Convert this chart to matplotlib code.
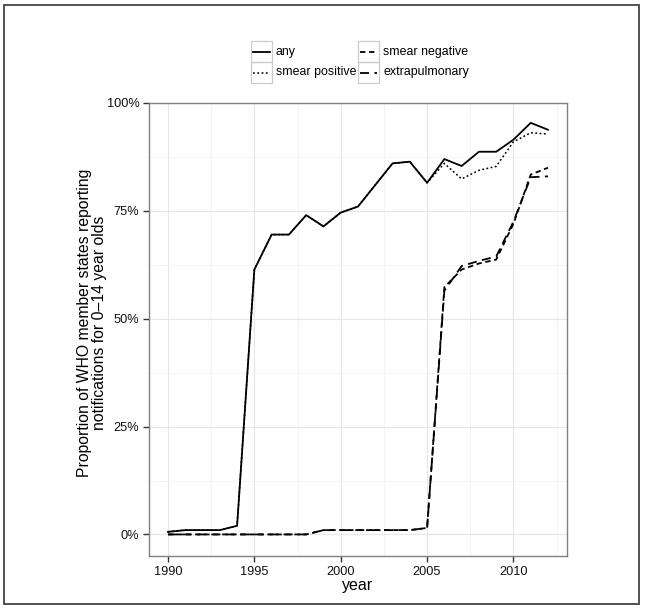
import matplotlib.pyplot as plt
from matplotlib.patches import Rectangle
from matplotlib.ticker import FuncFormatter, MultipleLocator
from matplotlib.lines import Line2D

plt.rcParams['font.family'] = ['Liberation Sans', 'DejaVu Sans']

years = list(range(1990, 2013))
any_pct = [0.6, 1, 1, 1, 2, 61.4, 69.5, 69.5, 74, 71.4, 74.6, 76, 81, 86, 86.4,
           81.5, 87, 85.4, 88.7, 88.7, 91.5, 95.4, 93.8]
smear_pos = [0.6, 1, 1, 1, 2, 61.4, 69.5, 69.5, 74, 71.4, 74.6, 76, 81, 86, 86.4,
             81.5, 86, 82.4, 84.4, 85.3, 91, 93.1, 92.8]
smear_neg = [0, 0, 0, 0, 0, 0, 0, 0, 0, 1, 1, 1, 1, 1, 1,
             1.5, 57.3, 61.4, 62.8, 63.7, 72, 83.4, 85]
extrapulm = [0, 0, 0, 0, 0, 0, 0, 0, 0, 1, 1, 1, 1, 1, 1,
             1.5, 56.5, 62.2, 63.4, 64.4, 72.5, 82.8, 83]
labels = ['any', 'smear positive', 'smear negative', 'extrapulmonary']
styles = ['-', (0, (1.2, 1.6)), (0, (3, 2)), (0, (5, 3))]
widths = [1.3, 1.1, 1.3, 1.3]

W, H = 645, 609
fig = plt.figure(figsize=(W / 100, H / 100), dpi=100)
# outer frame round the whole picture
fig.patches.append(Rectangle((4 / W, 5 / H), 635 / W, 599 / H,
                             transform=fig.transFigure, fill=False,
                             edgecolor='#444444', linewidth=1.3))

ax = fig.add_axes([149 / W, (H - 556) / H, (567 - 149) / W, (556 - 103) / H])

series = [any_pct, smear_pos, smear_neg, extrapulm]
for vals, lab, ls, lw in zip(series, labels, styles, widths):
    ax.plot(years, vals, color='black', lw=lw, linestyle=ls, label=lab)

ax.set_xlim(1988.9, 2013.1)
ax.set_ylim(-5, 100)
ax.xaxis.set_major_locator(MultipleLocator(5))
ax.xaxis.set_minor_locator(MultipleLocator(2.5))
ax.yaxis.set_major_locator(MultipleLocator(25))
ax.yaxis.set_minor_locator(MultipleLocator(12.5))
ax.yaxis.set_major_formatter(FuncFormatter(lambda v, p: f'{v:.0f}%'))
ax.grid(which='major', color='#e6e6e6', lw=0.8)
ax.grid(which='minor', color='#f3f3f3', lw=0.6)
ax.set_axisbelow(True)
for s in ax.spines.values():
    s.set_color('#808080')
    s.set_linewidth(1.0)
ax.tick_params(which='major', length=4, color='#333333', labelsize=9.2,
               labelcolor='#111111', width=1, pad=3)
ax.tick_params(which='minor', length=0)

ax.set_xlabel('year', fontsize=11.5, labelpad=0)
ax.set_ylabel('Proportion of WHO member states reporting\nnotifications for 0\u201314 year olds',
              fontsize=11.3, linespacing=1.0)
ax.yaxis.set_label_coords(-0.101, 0.514)

# legend drawn by hand, ggplot style: grey boxed keys in a 2x2 grid
key_w, key_h = 21, 21
col_x = [251, 358]
row_y = [41, 62]
order = [(0, 0), (0, 1), (1, 0), (1, 1)]  # (col, row) for each series
for (c, r), lab, ls, lw in zip(order, labels, styles, widths):
    x0, y0 = col_x[c], row_y[r]
    fig.patches.append(Rectangle((x0 / W, 1 - (y0 + key_h) / H), key_w / W, key_h / H,
                                 transform=fig.transFigure, fill=False,
                                 edgecolor='#cccccc', linewidth=0.9))
    ym = 1 - (y0 + key_h / 2) / H
    fig.lines.append(Line2D([(x0 + 2) / W, (x0 + key_w - 2) / W], [ym, ym],
                            transform=fig.transFigure, color='black', lw=lw, linestyle=ls))
    fig.text((x0 + key_w + 4) / W, ym, lab, fontsize=8.9, va='center', ha='left')

fig.savefig('out.png', dpi=100)
